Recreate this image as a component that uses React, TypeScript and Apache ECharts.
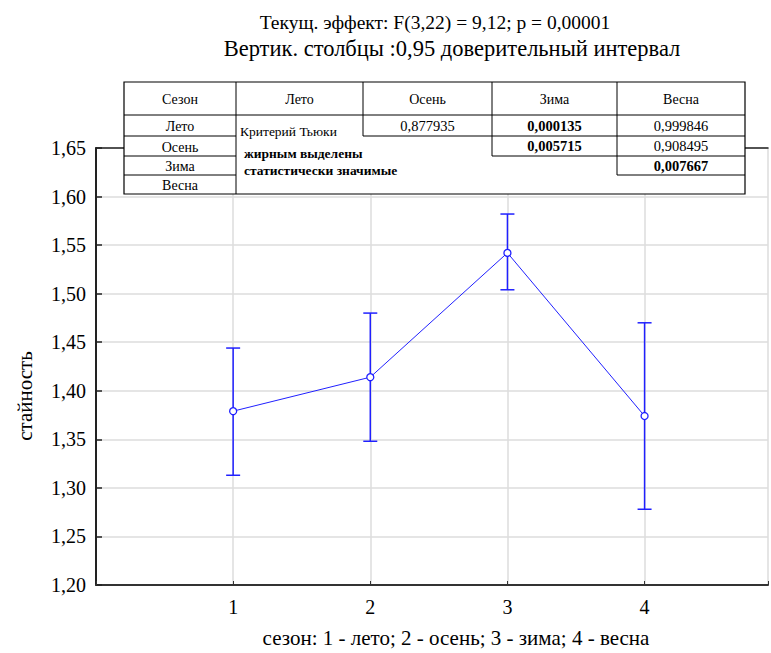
import React, { useEffect, useRef } from "react";
import * as echarts from "echarts";

const xValues = [1, 2, 3, 4];
const means = [1.379, 1.414, 1.542, 1.374];
const lowerCI = [1.313, 1.348, 1.504, 1.278];
const upperCI = [1.444, 1.480, 1.582, 1.470];

const titleLines = [
  "Текущ. эффект: F(3,22) = 9,12; p = 0,00001",
  "Вертик. столбцы :0,95 доверительный интервал",
];
const xAxisName = "сезон: 1 - лето; 2 - осень; 3 - зима; 4 - весна";
const yAxisName = "стайность";

const seasons = ["Лето", "Осень", "Зима", "Весна"];
const tableCorner = "Сезон";
// upper-triangular p-values: [row][col]
const pValues: (string | null)[][] = [
  [null, "0,877935", "0,000135", "0,999846"],
  [null, null, "0,005715", "0,908495"],
  [null, null, null, "0,007667"],
  [null, null, null, null],
];
const significant: boolean[][] = [
  [false, false, true, false],
  [false, false, true, false],
  [false, false, false, true],
  [false, false, false, false],
];
const noteLines = ["Критерий Тьюки", "жирным выделены", "статистически значимые"];

const BLUE = "#2020ff";
const SERIF = "Liberation Serif";

function txt(
  t: string,
  x: number,
  y: number,
  size: number,
  weight: string = "normal",
  align = "center",
  rotation = 0,
  z = 102
) {
  return {
    type: "text",
    x,
    y,
    rotation,
    z,
    style: {
      text: t,
      fontFamily: SERIF,
      fontSize: size,
      fontWeight: weight,
      fill: "#000",
      textAlign: align,
      textVerticalAlign: "middle",
    },
  };
}

function buildTable(): any[] {
  const colX = [124, 236, 363, 492, 617, 745];
  const rowY = [82, 115, 136, 156, 175, 194];
  const els: any[] = [];
  const line = (x1: number, y1: number, x2: number, y2: number) =>
    els.push({
      type: "line",
      shape: { x1, y1, x2, y2 },
      style: { stroke: "#000", lineWidth: 1 },
      z: 101,
    });
  els.push({
    type: "rect",
    shape: { x: colX[0], y: rowY[0], width: colX[5] - colX[0], height: rowY[5] - rowY[0] },
    style: { fill: "#fff", stroke: "#000", lineWidth: 1.2 },
    z: 100,
  });
  line(colX[0], rowY[1], colX[5], rowY[1]);
  for (let c = 1; c <= 4; c++) line(colX[c], rowY[0], colX[c], rowY[1]);
  els.push(txt(tableCorner, (colX[0] + colX[1]) / 2, 99, 14));
  seasons.forEach((s, i) => els.push(txt(s, (colX[i + 1] + colX[i + 2]) / 2, 99, 14)));
  line(colX[1], rowY[1], colX[1], rowY[5]);
  for (let r = 2; r <= 4; r++) line(colX[0], rowY[r], colX[1], rowY[r]);
  seasons.forEach((s, i) =>
    els.push(txt(s, (colX[0] + colX[1]) / 2, (rowY[i + 1] + rowY[i + 2]) / 2 + 1, 14))
  );
  for (let r = 0; r < 4; r++) {
    for (let c = 0; c < 4; c++) {
      const v = pValues[r][c];
      if (!v) continue;
      const x1 = colX[c + 1];
      const x2 = colX[c + 2];
      const y1 = rowY[r + 1];
      const y2 = rowY[r + 2];
      line(x1, y1, x1, y2);
      line(x1, y2, x2, y2);
      els.push(txt(v, (x1 + x2) / 2, (y1 + y2) / 2, 14.5, significant[r][c] ? "bold" : "normal"));
    }
  }
  els.push(txt(noteLines[0], 240, 131, 13.5, "normal", "left"));
  els.push(txt(noteLines[1], 244, 153, 13.5, "bold", "left"));
  els.push(txt(noteLines[2], 244, 170, 13.5, "bold", "left"));
  return els;
}

export default function App() {
  const ref = useRef<HTMLDivElement>(null);
  useEffect(() => {
    document.body.style.margin = "0";
    if (!ref.current) return;
    const chart = echarts.init(ref.current, undefined, { renderer: "svg" });
    const lineData = xValues.map((x, i) => [x, means[i]]);
    const errData = xValues.map((x, i) => [x, lowerCI[i], upperCI[i]]);
    const fmtY = (v: number) => v.toFixed(2).replace(".", ",");
    chart.setOption({
      animation: false,
      backgroundColor: "#fff",
      textStyle: { fontFamily: SERIF },
      grid: { left: 96, top: 148, right: 0, bottom: 68, containLabel: false },
      xAxis: [
        {
          type: "value",
          min: 0,
          max: 4.9,
          interval: 1,
          axisLine: { show: true, onZero: false, lineStyle: { color: "#333", width: 2 } },
          axisTick: { show: true, inside: true, length: 4, lineStyle: { color: "#333" } },
          axisLabel: {
            fontFamily: SERIF,
            fontSize: 20,
            color: "#000",
            margin: 12,
            formatter: (v: number) => (v >= 1 && v <= 4 && Number.isInteger(v) ? String(v) : ""),
          },
          splitLine: { show: true, lineStyle: { color: "#dcdcdc", width: 1.5 } },
        },
        {
          type: "value",
          position: "top",
          min: 0,
          max: 4.9,
          interval: 1,
          axisLine: { show: true, onZero: false, lineStyle: { color: "#222", width: 1.5 } },
          axisTick: { show: false },
          axisLabel: { show: false },
          splitLine: { show: false },
        },
      ],
      yAxis: {
        type: "value",
        min: 1.2,
        max: 1.65,
        interval: 0.05,
        axisLine: { show: true, onZero: false, lineStyle: { color: "#222", width: 2 } },
        axisTick: { show: true, inside: true, length: 6, lineStyle: { color: "#222", width: 1.5 } },
        axisLabel: { fontFamily: SERIF, fontSize: 20, color: "#000", margin: 10, formatter: fmtY },
        splitLine: { show: true, lineStyle: { color: "#dcdcdc", width: 1.5 } },
      },
      series: [
        {
          type: "custom",
          data: errData,
          z: 3,
          renderItem: (params: any, api: any) => {
            const x = api.value(0);
            const lo = api.coord([x, api.value(1)]);
            const hi = api.coord([x, api.value(2)]);
            const w = 7;
            const st = { stroke: BLUE, lineWidth: 1.5 };
            return {
              type: "group",
              children: [
                { type: "line", shape: { x1: hi[0], y1: hi[1], x2: lo[0], y2: lo[1] }, style: st },
                { type: "line", shape: { x1: hi[0] - w, y1: hi[1], x2: hi[0] + w, y2: hi[1] }, style: st },
                { type: "line", shape: { x1: lo[0] - w, y1: lo[1], x2: lo[0] + w, y2: lo[1] }, style: st },
              ],
            };
          },
        },
        {
          type: "line",
          data: lineData,
          z: 4,
          symbol: "circle",
          symbolSize: 7,
          lineStyle: { color: BLUE, width: 1 },
          itemStyle: { color: "#fff", borderColor: BLUE, borderWidth: 1.3 },
        },
      ],
      graphic: [
        txt(titleLines[0], 435, 22, 19.5, "normal", "center", 0, 100),
        txt(titleLines[1], 452, 48, 22.5, "normal", "center", 0, 100),
        txt(xAxisName, 456, 638, 21, "normal", "center", 0, 100),
        txt(yAxisName, 25, 396, 21, "normal", "center", Math.PI / 2, 100),
        ...buildTable(),
      ],
    });
    return () => chart.dispose();
  }, []);
  return <div ref={ref} style={{ width: 771, height: 653 }} />;
}
